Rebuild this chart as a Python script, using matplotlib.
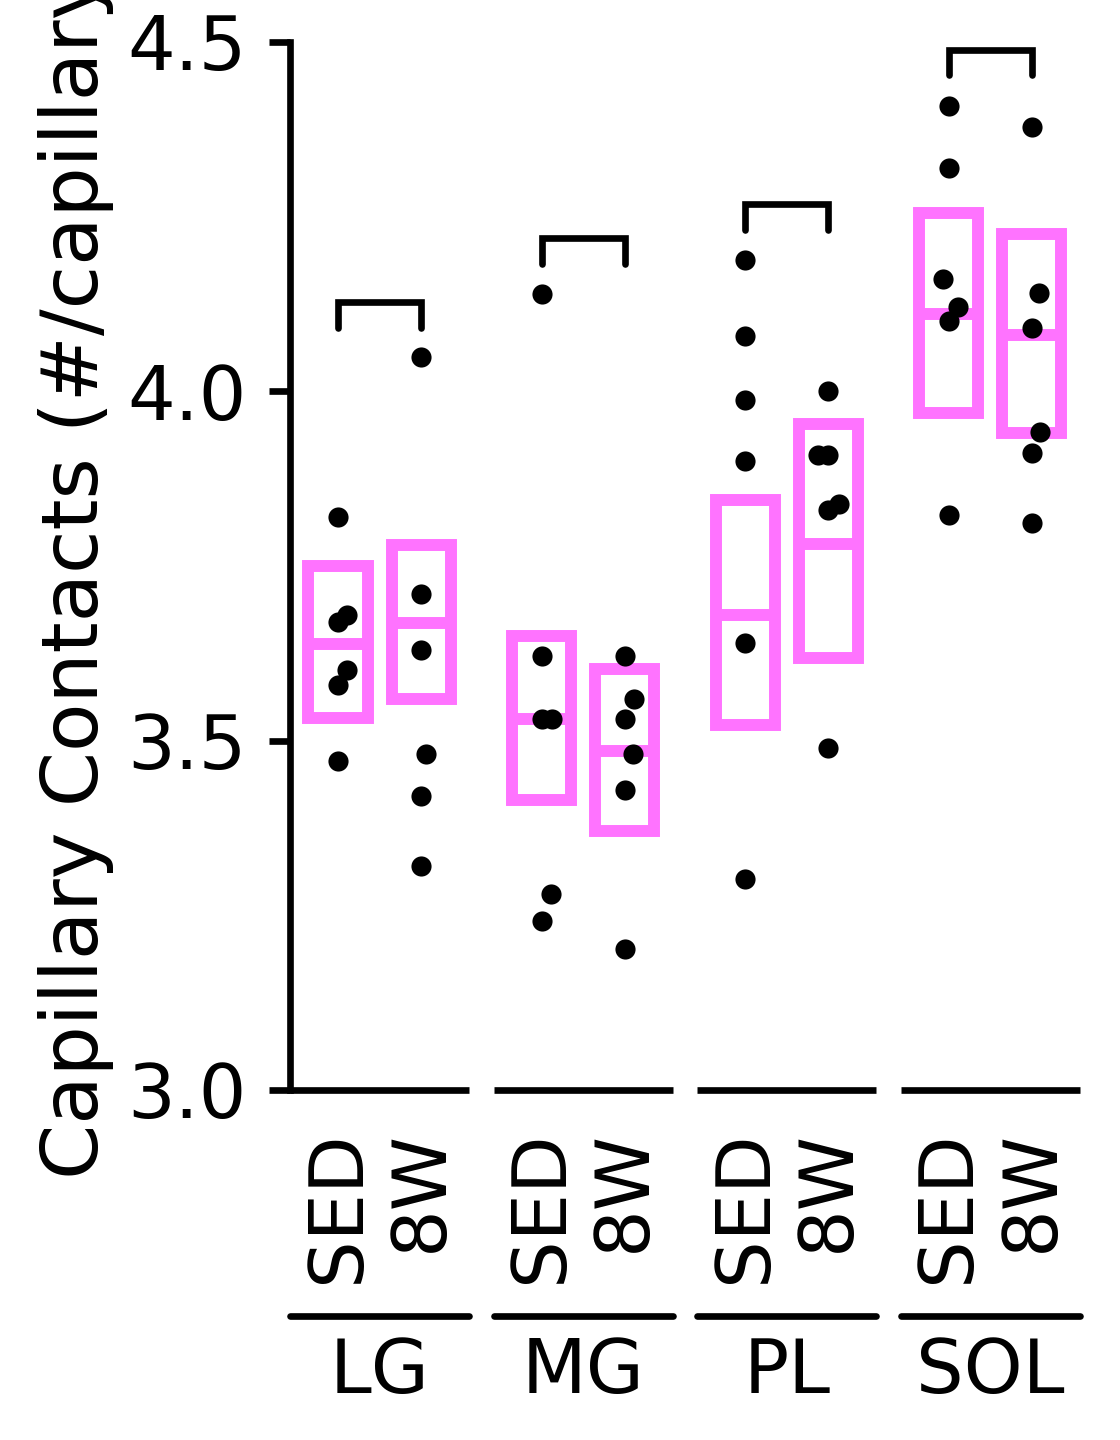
import numpy as np
import matplotlib
matplotlib.use("Agg")
import matplotlib.pyplot as plt

plt.rcParams['font.family'] = ['DejaVu Sans']
plt.rcParams['font.size'] = 54

groups = ['LG', 'MG', 'PL', 'SOL']
conds = ['SED', '8W']

# individual animals
lg_sed = [3.820, 3.680, 3.670, 3.601, 3.580, 3.471]
lg_8w = [4.049, 3.710, 3.630, 3.481, 3.421, 3.321]
mg_sed = [4.139, 3.621, 3.531, 3.531, 3.281, 3.242]
mg_8w = [3.621, 3.560, 3.531, 3.481, 3.429, 3.201]
pl_sed = [4.188, 4.079, 3.988, 3.900, 3.640, 3.302]
pl_8w = [4.000, 3.909, 3.909, 3.839, 3.830, 3.489]
sol_sed = [4.408, 4.319, 4.161, 4.121, 4.101, 3.823]
sol_8w = [4.378, 4.140, 4.091, 3.942, 3.912, 3.812]

# box: low / mean / high
box_lo = [3.532, 3.560, 3.415, 3.371, 3.522, 3.618, 3.969, 3.940]
box_mid = [3.638, 3.668, 3.531, 3.485, 3.680, 3.781, 4.110, 4.081]
box_hi = [3.750, 3.780, 3.650, 3.603, 3.845, 3.953, 4.255, 4.225]

bracket_top = [4.128, 4.219, 4.268, 4.489]

series = [lg_sed, lg_8w, mg_sed, mg_8w, pl_sed, pl_8w, sol_sed, sol_8w]

# horizontal spread of overlapping dots
jit = [
    [0, 0.045, 0, 0.045, 0, 0],
    [0, 0, 0, 0.025, 0, 0],
    [0, 0, 0, 0.05, 0.045, 0],
    [0, 0.045, 0, 0.04, 0, 0],
    [0, 0, 0, 0, 0, 0],
    [0, -0.05, 0, 0.05, 0, 0],
    [0, 0, -0.03, 0.045, 0, 0],
    [0, 0.035, 0, 0.04, 0, 0],
]

pink = '#FF73FF'
lw = 4.8
off = 0.204
bw = 0.29

fig = plt.figure(figsize=(11.2, 14.4), dpi=100)
ax = fig.add_axes([0.2589, 0.2431, 0.7054, 0.7278])

xpos = []
for g in range(len(groups)):
    xpos += [g - off, g + off]
xpos = np.array(xpos)

ax.bar(xpos, np.array(box_hi) - np.array(box_lo), bottom=box_lo, width=bw,
       fill=False, edgecolor=pink, linewidth=8.6, zorder=2)
ax.hlines(box_mid, xpos - bw / 2, xpos + bw / 2, color=pink, linewidth=8.6, zorder=2)

for i, vals in enumerate(series):
    ax.plot(xpos[i] + np.array(jit[i]), vals, 'o', color='black', markersize=14.5,
            markeredgewidth=0, zorder=3)

for g in range(len(groups)):
    x0, x1 = g - off, g + off
    yt = bracket_top[g]
    ax.plot([x0, x0, x1, x1], [yt - 0.037, yt, yt, yt - 0.037], color='black',
            linewidth=lw, solid_capstyle='round', solid_joinstyle='miter', zorder=3)

ax.set_xlim(-0.44, 3.44)
ax.set_ylim(3.0, 4.5)
ax.set_yticks([3.0, 3.5, 4.0, 4.5])
ax.set_yticklabels(['3.0', '3.5', '4.0', '4.5'])
ax.set_xticks(xpos)
ax.set_xticklabels(conds * len(groups), rotation=90)

for s in ['top', 'right', 'bottom']:
    ax.spines[s].set_visible(False)
ax.spines['left'].set_linewidth(lw)
ax.tick_params(axis='y', length=15, width=lw, pad=16)
ax.tick_params(axis='x', length=0, pad=29)
ax.set_ylabel('Capillary Contacts (#/capillary)', fontsize=57, labelpad=10)
ax.yaxis.label.set_y(0.505)

# broken x axis and group labels
tr = ax.get_xaxis_transform()
for g, name in enumerate(groups):
    ax.plot([g - 0.44, g + 0.44], [0, 0], transform=tr, color='black', linewidth=lw,
            solid_capstyle='butt', clip_on=False)
    ax.plot([g - 0.44, g + 0.44], [-0.2156, -0.2156], transform=tr, color='black',
            linewidth=lw, solid_capstyle='round', clip_on=False)
    ax.text(g, -0.2891, name, transform=tr, ha='center', va='baseline')

fig.savefig('out.png', dpi=100)
